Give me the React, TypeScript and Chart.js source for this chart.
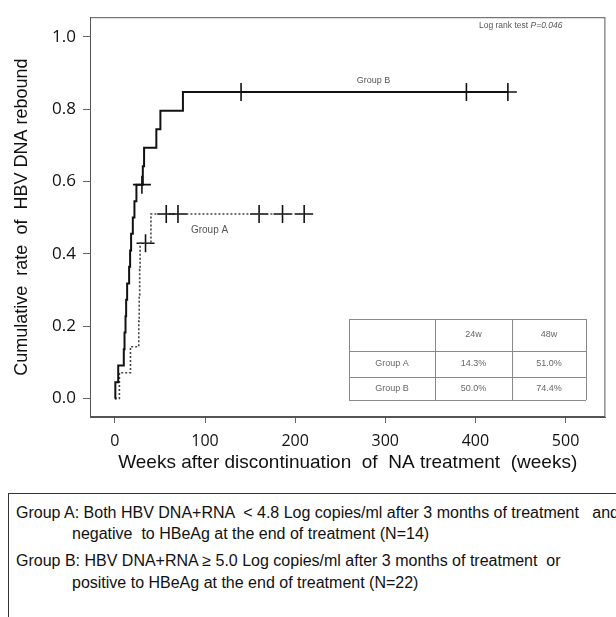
import React, { useEffect, useRef } from "react";
import { Chart, registerables } from "chart.js";

Chart.register(...registerables);

// ---- Data ----
const xTickValues = [0, 100, 200, 300, 400, 500];
const yTickValues = [0, 0.2, 0.4, 0.6, 0.8, 1.0];

// Group B (solid): event times (weeks) and cumulative rebound rate after each step
const groupBWeeks = [0, 0.5, 3.7, 9.9, 10.7, 11.8, 12.5, 13.6, 15.8, 16.9, 18, 19.9, 21.7, 23.9, 31, 32.4, 46, 50.5, 75.5, 436];
const groupBRate = [0, 0.045, 0.091, 0.136, 0.182, 0.227, 0.273, 0.318, 0.364, 0.409, 0.455, 0.5, 0.545, 0.591, 0.642, 0.693, 0.744, 0.795, 0.847, 0.847];
const groupBCensorWeeks = [30, 140, 390, 436];
const groupBCensorRate = [0.591, 0.847, 0.847, 0.847];

// Group A (dotted)
const groupAWeeks = [0, 5, 17.3, 26.5, 27, 27.5, 28, 40, 210];
const groupARate = [0, 0.071, 0.143, 0.214, 0.286, 0.357, 0.429, 0.51, 0.51];
const groupACensorWeeks = [34, 57, 70, 160, 186, 210];
const groupACensorRate = [0.429, 0.51, 0.51, 0.51, 0.51, 0.51];

// Inset table
const tableHeader = ["", "24w", "48w"];
const tableRowA = ["Group A", "14.3%", "51.0%"];
const tableRowB = ["Group B", "50.0%", "74.4%"];

const legendLines = [
  "Group A: Both HBV DNA+RNA  < 4.8 Log copies/ml after 3 months of treatment   and",
  "negative  to HBeAg at the end of treatment (N=14)",
  "Group B: HBV DNA+RNA \u2265 5.0 Log copies/ml after 3 months of treatment  or",
  "positive to HBeAg at the end of treatment (N=22)",
];

const toPoints = (xs: number[], ys: number[]) => xs.map((x, i) => ({ x, y: ys[i] }));

const annotationPlugin = {
  id: "kmAnnotations",
  afterDraw(chart: any) {
    const { ctx, chartArea } = chart;
    const xs = chart.scales.x;
    const ys = chart.scales.y;
    ctx.save();
    // box
    ctx.strokeStyle = "#555";
    ctx.lineWidth = 1;
    ctx.strokeRect(chartArea.left + 0.5, chartArea.top + 0.5, chartArea.right - chartArea.left - 1, chartArea.bottom - chartArea.top - 1);

    // labels
    ctx.fillStyle = "#555";
    ctx.font = "9px 'Liberation Sans', Arial, sans-serif";
    ctx.textAlign = "center";
    ctx.textBaseline = "middle";
    ctx.fillText("Group B", xs.getPixelForValue(287), ys.getPixelForValue(0.88));
    ctx.font = "10px 'Liberation Sans', Arial, sans-serif";
    ctx.fillText("Group A", xs.getPixelForValue(105), ys.getPixelForValue(0.465));

    // log rank text
    ctx.textAlign = "left";
    ctx.font = "8.5px 'Liberation Sans', Arial, sans-serif";
    const t1 = "Log rank test ";
    const w1 = ctx.measureText(t1).width;
    ctx.font = "italic 8.5px 'Liberation Sans', Arial, sans-serif";
    const w2 = ctx.measureText("P=0.046").width;
    const lx = chartArea.right - 43 - w1 - w2;
    const ly = chartArea.top + 8;
    ctx.fillText("P=0.046", lx + w1, ly);
    ctx.font = "8.5px 'Liberation Sans', Arial, sans-serif";
    ctx.fillText(t1, lx, ly);

    // table
    const colX = [349, 435, 512, 586];
    const rowY = [319, 351, 377, 400];
    ctx.strokeStyle = "#888";
    ctx.lineWidth = 1;
    for (const y of rowY) {
      ctx.beginPath();
      ctx.moveTo(colX[0], y + 0.5);
      ctx.lineTo(colX[3], y + 0.5);
      ctx.stroke();
    }
    for (const x of colX) {
      ctx.beginPath();
      ctx.moveTo(x + 0.5, rowY[0]);
      ctx.lineTo(x + 0.5, rowY[3]);
      ctx.stroke();
    }
    ctx.fillStyle = "#666";
    ctx.font = "9px 'Liberation Sans', Arial, sans-serif";
    ctx.textAlign = "center";
    const rows = [tableHeader, tableRowA, tableRowB];
    rows.forEach((row, r) => {
      row.forEach((txt, c) => {
        ctx.fillText(txt, (colX[c] + colX[c + 1]) / 2, (rowY[r] + rowY[r + 1]) / 2);
      });
    });
    ctx.restore();
  },
};

export default function App() {
  const canvasRef = useRef<HTMLCanvasElement | null>(null);

  useEffect(() => {
    if (!canvasRef.current) return;
    const chart = new Chart(canvasRef.current, {
      type: "line",
      data: {
        datasets: [
          {
            label: "Group B",
            data: toPoints(groupBWeeks, groupBRate),
            borderColor: "#111",
            borderWidth: 2,
            stepped: "before",
            pointRadius: 0,
            fill: false,
          },
          {
            label: "Group A",
            data: toPoints(groupAWeeks, groupARate),
            borderColor: "#444",
            borderWidth: 1.6,
            borderDash: [2, 2],
            stepped: "before",
            pointRadius: 0,
            fill: false,
          },
          {
            label: "Group B censored",
            data: toPoints(groupBCensorWeeks, groupBCensorRate),
            showLine: false,
            pointStyle: "cross",
            pointRadius: 9,
            borderColor: "#111",
            pointBorderWidth: 1.6,
          },
          {
            label: "Group A censored",
            data: toPoints(groupACensorWeeks, groupACensorRate),
            showLine: false,
            pointStyle: "cross",
            pointRadius: 9,
            borderColor: "#111",
            pointBorderWidth: 1.6,
          },
        ],
      },
      options: {
        animation: false,
        responsive: false,
        devicePixelRatio: 1,
        layout: { padding: { left: 0, top: 8, right: 8, bottom: 0 } },
        plugins: { legend: { display: false }, tooltip: { enabled: false } },
        scales: {
          x: {
            type: "linear",
            min: -27.6,
            max: 544.2,
            afterFit: (s: any) => { s.height = 73; },
            afterBuildTicks: (s: any) => { s.ticks = xTickValues.map((v) => ({ value: v })); },
            ticks: {
              color: "#111",
              font: { family: "'Open Sans', sans-serif", size: 16 },
              padding: 9,
              maxRotation: 0,
              callback: (v: any) => String(v),
            },
            grid: { display: true, drawOnChartArea: false, drawTicks: true, tickLength: 6, color: "#666" },
            border: { display: true, color: "#555" },
            title: {
              display: true,
              text: "Weeks after discontinuation  of  NA treatment  (weeks)",
              color: "#111",
              font: { family: "'Liberation Sans', Arial, sans-serif", size: 19 },
              padding: { top: 0, bottom: 15.6 },
            },
          },
          y: {
            type: "linear",
            min: -0.0514,
            max: 1.054,
            afterFit: (s: any) => { s.width = 90; },
            afterBuildTicks: (s: any) => { s.ticks = yTickValues.map((v) => ({ value: v })); },
            ticks: {
              color: "#111",
              font: { family: "'Open Sans', sans-serif", size: 17 },
              padding: 7,
              callback: (v: any) => Number(v).toFixed(1),
            },
            grid: { display: true, drawOnChartArea: false, drawTicks: true, tickLength: 7, color: "#666" },
            border: { display: true, color: "#555" },
            title: {
              display: true,
              text: "Cumulative  rate  of  HBV DNA rebound",
              color: "#111",
              font: { family: "'Liberation Sans', Arial, sans-serif", size: 18 },
              padding: { top: 11.2, bottom: 0 },
            },
          },
        },
      },
      plugins: [annotationPlugin],
    });
    return () => chart.destroy();
  }, []);

  const lineStyle = (left: number, centerY: number): React.CSSProperties => ({
    position: "absolute",
    left,
    top: centerY - 493 - 9,
    height: 18,
    lineHeight: "18px",
    whiteSpace: "pre",
  });

  return (
    <div style={{ position: "absolute", left: 0, top: 0, width: 616, height: 617, overflow: "hidden", background: "#fff" }}>
      <canvas ref={canvasRef} width={616} height={490} style={{ position: "absolute", left: 0, top: 0 }} />
      <div
        style={{
          position: "absolute",
          left: 8,
          top: 493,
          width: 700,
          height: 200,
          border: "1.5px solid #333",
          fontFamily: "'Liberation Sans', Arial, sans-serif",
          fontSize: 16,
          color: "#111",
          boxSizing: "border-box",
        }}
      >
        <div style={lineStyle(7, 512)}>{legendLines[0]}</div>
        <div style={lineStyle(63, 533)}>{legendLines[1]}</div>
        <div style={lineStyle(7, 560)}>{legendLines[2]}</div>
        <div style={lineStyle(63, 582)}>{legendLines[3]}</div>
      </div>
    </div>
  );
}
